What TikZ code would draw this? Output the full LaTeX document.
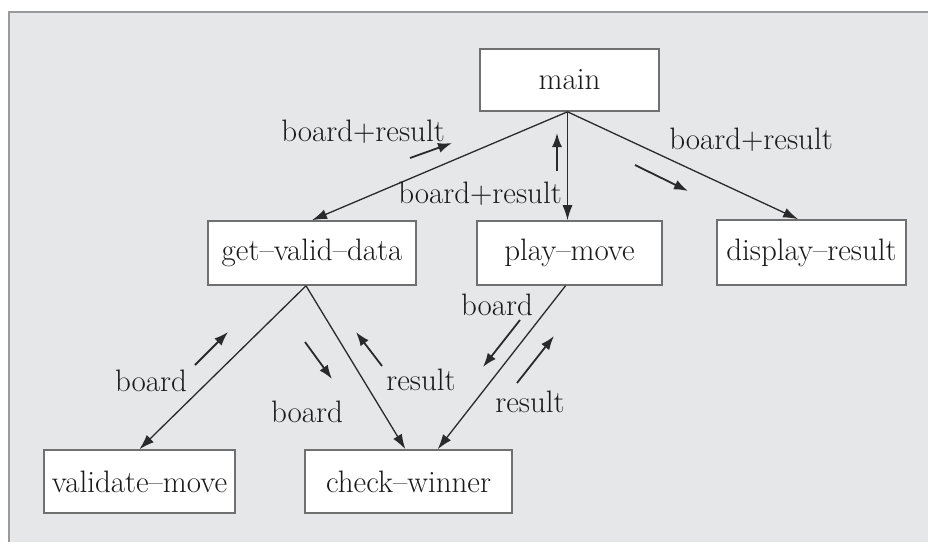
\documentclass[tikz,border=0pt]{standalone}
\usetikzlibrary{arrows.meta,calc}
\definecolor{panelgray}{HTML}{E6E7E9}
\definecolor{panelline}{HTML}{9A9A9A}
\definecolor{boxline}{HTML}{707070}
\definecolor{inkline}{HTML}{2A2A2A}
\definecolor{inktext}{HTML}{1A1A1A}
\tikzset{
  modbox/.style={draw=boxline, fill=white, line width=0.8pt, inner sep=0pt,
    font=\fontsize{15.5}{18}\selectfont, text=inktext},
  lbl/.style={inner sep=0pt, font=\fontsize{15.5}{18}\selectfont, text=inktext},
  conn/.style={draw=inkline, line width=0.65pt, -{Latex[length=7.5pt,width=5pt]}},
  flow/.style={draw=inkline, line width=0.9pt, -{Latex[length=7pt,width=5pt]}}
}
\begin{document}
\begin{tikzpicture}[x=0.5pt,y=-0.5pt]
\useasboundingbox (0,0) rectangle (928,542);
\fill[white] (0,0) rectangle (928,542);
\fill[panelgray] (9,12) rectangle (928,542);
\draw[panelline, line width=0.9pt] (9,542) -- (9,12) -- (928,12);

% modules
\node[modbox, minimum width=89.5pt, minimum height=31pt] (main) at (569.5,80) {main};
\node[modbox, minimum width=104pt, minimum height=32pt] (gvd) at (312,253) {get--valid--data};
\node[modbox, minimum width=92.5pt, minimum height=32pt] (pm) at (569.5,253) {play--move};
\node[modbox, minimum width=94.5pt, minimum height=32.5pt] (dr) at (811.5,252.5) {display--result};
\node[modbox, minimum width=95.5pt, minimum height=31.5pt] (vm) at (139.5,481.5) {validate--move};
\node[modbox, minimum width=103.5pt, minimum height=31.5pt] (cw) at (408.5,481.5) {check--winner};

% connectors
\draw[conn] ($(main.south)+(-2,0)$) -- (gvd.north);
\draw[conn] ($(main.south)+(-2,0)$) -- ($(pm.north)+(-2,0)$);
\draw[conn] ($(main.south)+(-2,0)$) -- ($(dr.north west)!0.43!(dr.north east)$);
\draw[conn] ($(gvd.south)+(-6,0)$) -- (vm.north);
\draw[conn] ($(gvd.south)+(-6,0)$) -- ($(cw.north west)!0.485!(cw.north east)$);
\draw[conn] ($(pm.south)+(-4,0)$) -- ($(cw.north west)!0.64!(cw.north east)$);

% labels
\node[lbl] (l1) at (363,132) {board+result};
\node[lbl] (l2) at (480,194) {board+result};
\node[lbl] (l3) at (751,140) {board+result};
\node[lbl] (l4) at (151,381) {board};
\node[lbl] (l5) at (307,412) {board};
\node[lbl] (l6) at (421,380) {result};
\node[lbl] (l7) at (497,305) {board};
\node[lbl] (l8) at (530,402) {result};

% flow arrows
\coordinate (a1s) at (410,158); \coordinate (a1e) at (452,143);
\coordinate (a2s) at (557,171); \coordinate (a2e) at (557,133);
\coordinate (a3s) at (635,165); \coordinate (a3e) at (688,191);
\coordinate (a4s) at (195,365); \coordinate (a4e) at (228,332);
\coordinate (a5s) at (305,342); \coordinate (a5e) at (332,379);
\coordinate (a6s) at (382,366); \coordinate (a6e) at (356,332);
\coordinate (a7s) at (520,320); \coordinate (a7e) at (483,367);
\coordinate (a8s) at (517,383); \coordinate (a8e) at (554,336);
\draw[flow] (a1s) -- (a1e);
\draw[flow] (a2s) -- (a2e);
\draw[flow] (a3s) -- (a3e);
\draw[flow] (a4s) -- (a4e);
\draw[flow] (a5s) -- (a5e);
\draw[flow] (a6s) -- (a6e);
\draw[flow] (a7s) -- (a7e);
\draw[flow] (a8s) -- (a8e);
\end{tikzpicture}
\end{document}
